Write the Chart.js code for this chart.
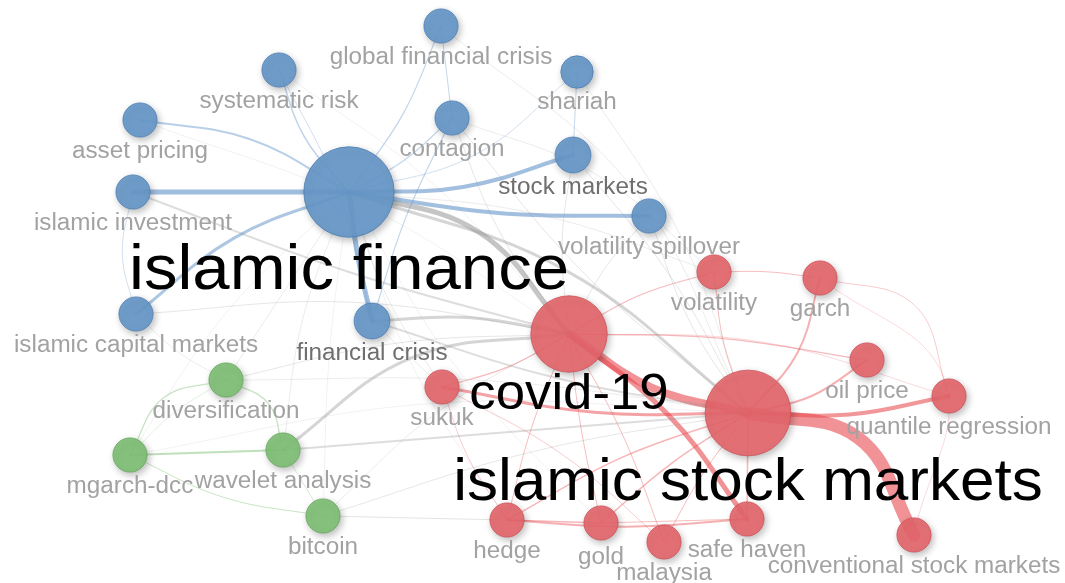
<!DOCTYPE html>
<html>
<head>
<meta charset="utf-8">
<script src="https://cdn.jsdelivr.net/npm/chart.js@4.4.0/dist/chart.umd.min.js"></script>
<style>
  html, body { margin: 0; padding: 0; background: #fff; }
  #wrap { width: 1065px; height: 583px; }
</style>
</head>
<body>
<div id="wrap"><canvas id="chart" width="1065" height="583"></canvas></div>
<script>
// keywords of the co-occurrence map
const terms = ['islamic finance', 'global financial crisis', 'systematic risk', 'shariah', 'asset pricing',
  'contagion', 'stock markets', 'islamic investment', 'volatility spillover', 'islamic capital markets',
  'financial crisis', 'diversification', 'mgarch-dcc', 'wavelet analysis', 'bitcoin',
  'covid-19', 'islamic stock markets', 'volatility', 'garch', 'oil price', 'quantile regression',
  'sukuk', 'hedge', 'gold', 'malaysia', 'safe haven', 'conventional stock markets'];
const cluster = [1, 1, 1, 1, 1, 1, 1, 1, 1, 1, 1, 3, 3, 3, 3, 2, 2, 2, 2, 2, 2, 2, 2, 2, 2, 2, 2];
const mapX = [349, 441, 279, 577, 140, 452, 573, 133, 649, 136, 372, 226, 130, 283, 323,
  569, 748, 714, 820, 867, 949, 442, 507, 601, 664, 747, 914];
const mapY = [192, 26, 70, 72, 120, 118, 155, 192, 216, 314, 321, 380, 455, 450, 516,
  334, 413, 272, 278, 360, 396, 387, 520, 523, 542, 519, 535];
const occurrences = [70, 10, 10, 9, 10, 10, 11, 10, 10, 10, 11, 10, 10, 10, 10,
  50, 63, 10, 10, 10, 10, 10, 10, 10, 10, 10, 10];

// links: source, target, strength, bend
const links = [
  ['islamic finance', 'islamic investment', 5, 0],
  ['islamic finance', 'stock markets', 4, 0.06],
  ['islamic finance', 'volatility spillover', 4, 0.03],
  ['islamic finance', 'financial crisis', 5, 0.02],
  ['islamic finance', 'islamic capital markets', 3, 0.07],
  ['islamic finance', 'asset pricing', 2, 0.08],
  ['islamic finance', 'systematic risk', 1.5, -0.08],
  ['islamic finance', 'global financial crisis', 1.2, 0.05],
  ['islamic finance', 'contagion', 1.2, 0.05],
  ['islamic finance', 'shariah', 0.8, 0.1],
  ['contagion', 'financial crisis', 1.2, 0.03],
  ['global financial crisis', 'contagion', 1, 0],
  ['shariah', 'stock markets', 1, 0],
  ['systematic risk', 'financial crisis', 0.8, -0.05],
  ['islamic investment', 'islamic capital markets', 0.8, 0.1],

  ['islamic finance', 'covid-19', 5, -0.14],
  ['islamic finance', 'islamic stock markets', 3, -0.08],
  ['financial crisis', 'covid-19', 3, -0.05],
  ['financial crisis', 'islamic stock markets', 2, 0.03],
  ['islamic investment', 'covid-19', 2, 0.02],
  ['wavelet analysis', 'covid-19', 3, -0.12],
  ['wavelet analysis', 'islamic stock markets', 2, 0],
  ['bitcoin', 'hedge', 1.2, 0],
  ['bitcoin', 'islamic stock markets', 1, -0.03],
  ['bitcoin', 'covid-19', 0.8, -0.05],
  ['mgarch-dcc', 'bitcoin', 1, 0.06],
  ['islamic finance', 'diversification', 0.8, 0],
  ['islamic finance', 'wavelet analysis', 0.8, 0.05],
  ['islamic finance', 'mgarch-dcc', 0.6, 0.05],
  ['islamic finance', 'bitcoin', 0.6, 0.02],
  ['islamic finance', 'sukuk', 0.8, 0.05],
  ['islamic finance', 'hedge', 0.6, 0.05],
  ['islamic finance', 'gold', 0.6, 0.05],
  ['islamic finance', 'volatility', 0.8, -0.05],
  ['islamic capital markets', 'diversification', 0.8, 0.05],
  ['islamic capital markets', 'covid-19', 1, -0.05],
  ['asset pricing', 'covid-19', 0.6, -0.05],
  ['systematic risk', 'covid-19', 0.6, -0.05],
  ['contagion', 'covid-19', 1, 0.05],
  ['contagion', 'islamic stock markets', 1, 0.04],
  ['stock markets', 'covid-19', 1, 0.05],
  ['stock markets', 'islamic stock markets', 1, -0.04],
  ['volatility spillover', 'islamic stock markets', 1, 0.05],
  ['volatility spillover', 'covid-19', 1, 0.05],
  ['global financial crisis', 'islamic stock markets', 0.8, -0.1],
  ['shariah', 'islamic stock markets', 0.8, -0.05],
  ['contagion', 'volatility', 0.8, -0.08],
  ['diversification', 'covid-19', 1, -0.04],
  ['diversification', 'islamic stock markets', 0.8, -0.03],
  ['mgarch-dcc', 'islamic stock markets', 0.6, -0.05],
  ['financial crisis', 'sukuk', 0.8, 0],

  ['covid-19', 'islamic stock markets', 8, 0.08],
  ['islamic stock markets', 'conventional stock markets', 13, -0.22],
  ['covid-19', 'safe haven', 5, -0.06],
  ['islamic stock markets', 'quantile regression', 4, 0.05],
  ['islamic stock markets', 'garch', 2, 0.1],
  ['islamic stock markets', 'oil price', 2, 0.08],
  ['sukuk', 'islamic stock markets', 3, 0.04],
  ['sukuk', 'covid-19', 1.2, 0.05],
  ['covid-19', 'oil price', 1.2, -0.03],
  ['covid-19', 'volatility', 1.2, -0.05],
  ['volatility', 'garch', 1, -0.03],
  ['volatility', 'islamic stock markets', 1, 0.05],
  ['garch', 'quantile regression', 0.8, -0.25],
  ['garch', 'conventional stock markets', 0.6, -0.3],
  ['islamic stock markets', 'hedge', 1.5, 0.04],
  ['islamic stock markets', 'gold', 1.5, 0.03],
  ['islamic stock markets', 'malaysia', 1, 0.03],
  ['islamic stock markets', 'safe haven', 1.5, 0],
  ['covid-19', 'hedge', 1, 0.03],
  ['covid-19', 'gold', 1, 0.02],
  ['covid-19', 'malaysia', 1, -0.03],
  ['hedge', 'safe haven', 2, 0.03],
  ['hedge', 'gold', 1.5, 0],
  ['gold', 'safe haven', 1, 0],
  ['sukuk', 'hedge', 0.8, 0.05],
  ['sukuk', 'malaysia', 0.8, -0.05],
  ['covid-19', 'quantile regression', 0.6, -0.06],

  ['mgarch-dcc', 'wavelet analysis', 2, 0],
  ['diversification', 'mgarch-dcc', 1.3, 0.2],
  ['diversification', 'wavelet analysis', 1.3, -0.2],
  ['wavelet analysis', 'bitcoin', 0.8, 0],
  ['mgarch-dcc', 'diversification', 0.6, -0.05]
];

const fills = { 1: 'rgba(103,152,201,0.92)', 2: 'rgba(229,102,108,0.9)', 3: 'rgba(128,192,118,0.92)' };
const borders = { 1: 'rgba(78,128,180,0.8)', 2: 'rgba(205,80,88,0.8)', 3: 'rgba(100,168,92,0.8)' };
const edgeRGB = { 1: '95,145,200', 2: '232,75,80', 3: '110,185,100' };

function radius(occ) { return 5.4 * Math.sqrt(occ); }

function labelSize(occ) { return occ >= 40 ? 50 + (occ - 50) * 0.68 : 23; }

function labelColor(i) {
  if (occurrences[i] >= 40) return '#000';
  if (terms[i] === 'stock markets' || terms[i] === 'financial crisis') return '#6f6f6f';
  return '#a2a2a2';
}

const labelShift = {
  'covid-19': [0, -5],
  'islamic stock markets': [0, -4],
  'islamic finance': [0, -1],
  'gold': [0, 3]
};

const datasets = [];

links.forEach(([a, b, s, bend]) => {
  const i = terms.indexOf(a), j = terms.indexOf(b);
  const x1 = mapX[i], y1 = mapY[i], x2 = mapX[j], y2 = mapY[j];
  const dx = x2 - x1, dy = y2 - y1;
  const mid = { x: (x1 + x2) / 2 - bend * dy, y: (y1 + y2) / 2 + bend * dx };
  let color;
  if (cluster[i] === cluster[j]) {
    color = 'rgba(' + edgeRGB[cluster[i]] + ',' + Math.min(0.6, 0.3 + 0.07 * s) + ')';
  } else {
    color = 'rgba(150,150,150,' + Math.min(0.55, 0.16 + 0.08 * s) + ')';
  }
  datasets.push({
    type: 'scatter',
    showLine: true,
    data: [{ x: x1, y: y1 }, mid, { x: x2, y: y2 }],
    borderColor: color,
    borderWidth: s,
    borderCapStyle: 'round',
    pointRadius: 0,
    tension: 0.4,
    order: 2
  });
});

[1, 3, 2].forEach(c => {
  const pts = [];
  terms.forEach((t, i) => {
    if (cluster[i] === c) pts.push({ x: mapX[i], y: mapY[i], r: radius(occurrences[i]) });
  });
  datasets.push({
    type: 'bubble',
    data: pts,
    backgroundColor: fills[c],
    borderColor: borders[c],
    borderWidth: 1,
    order: 1
  });
});

const shadowPlugin = {
  id: 'shadow',
  beforeDatasetDraw(chart, args) {
    if (args.meta.type !== 'bubble') return;
    const ctx = chart.ctx;
    ctx.save();
    ctx.shadowColor = 'rgba(0,0,0,0.28)';
    ctx.shadowBlur = 7;
    ctx.shadowOffsetX = 2;
    ctx.shadowOffsetY = 3;
  },
  afterDatasetDraw(chart, args) {
    if (args.meta.type !== 'bubble') return;
    chart.ctx.restore();
  }
};

const labelPlugin = {
  id: 'labels',
  afterDatasetsDraw(chart) {
    const ctx = chart.ctx;
    const sx = chart.scales.x, sy = chart.scales.y;
    // small labels first, big ones on top
    const idx = terms.map((t, i) => i).sort((a, b) => occurrences[a] - occurrences[b]);
    idx.forEach(i => {
      const size = labelSize(occurrences[i]);
      const r = radius(occurrences[i]);
      const sh = labelShift[terms[i]] || [0, 0];
      const px = sx.getPixelForValue(mapX[i]) + sh[0];
      const py = sy.getPixelForValue(mapY[i]) + r + size * 0.5 + 3 + sh[1];
      ctx.save();
      ctx.translate(px, py);
      ctx.scale(1.055, 1);
      ctx.font = size + 'px "Liberation Sans", Arial, sans-serif';
      ctx.textAlign = 'center';
      ctx.textBaseline = 'middle';
      ctx.fillStyle = labelColor(i);
      ctx.fillText(terms[i], 0, 0);
      ctx.restore();
    });
  }
};

const bg = {
  id: 'bg',
  beforeDraw(chart) {
    const ctx = chart.ctx;
    ctx.save();
    ctx.fillStyle = '#fff';
    ctx.fillRect(0, 0, chart.width, chart.height);
    ctx.restore();
  }
};

new Chart(document.getElementById('chart').getContext('2d'), {
  type: 'scatter',
  data: { datasets },
  options: {
    responsive: false,
    animation: false,
    events: [],
    layout: { padding: 0, autoPadding: false },
    plugins: { legend: { display: false }, tooltip: { enabled: false } },
    scales: {
      x: { type: 'linear', min: 0, max: 1065, display: false },
      y: { type: 'linear', min: 0, max: 583, reverse: true, display: false }
    }
  },
  plugins: [bg, shadowPlugin, labelPlugin]
});
</script>
</body>
</html>
